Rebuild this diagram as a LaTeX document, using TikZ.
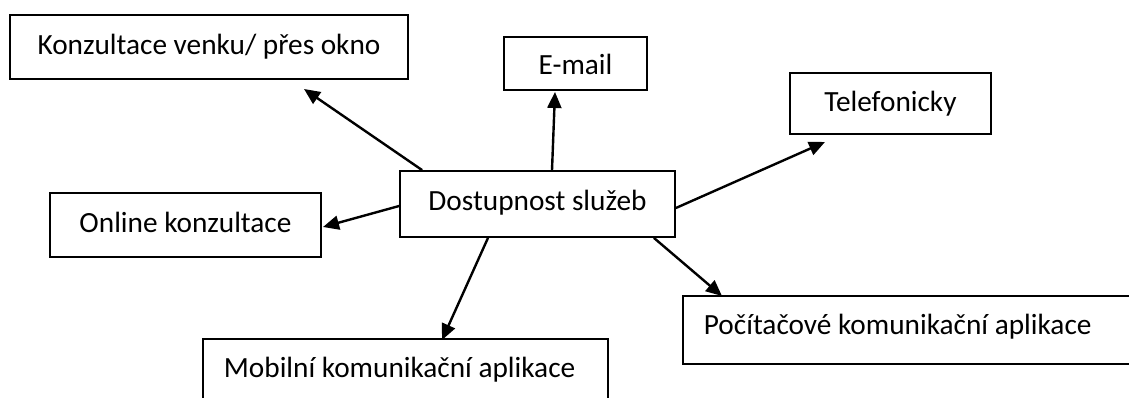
\documentclass[tikz,border=0pt]{standalone}
\usepackage{fontspec}
\setmainfont{Carlito}
\usetikzlibrary{arrows.meta,positioning}
\begin{document}
\begin{tikzpicture}[x=1pt,y=-1pt,
  box/.style={draw=black,line width=1.8pt,rectangle,inner sep=0pt,
    font=\fontsize{29.3}{35}\selectfont,text height=21pt,text depth=5pt},
  bl/.style={text height={13pt+#1},text depth={13pt-#1}},
  leftbox/.style={box,align=flush left,inner xsep=21pt},
  arr/.style={line width=2.4pt,-{Triangle[length=16pt,width=14pt]}}]
\useasboundingbox (0,0) rectangle (1129,398);
\clip (0,0) rectangle (1129,398);
\fill[white] (0,0) rectangle (1129,398);
% boxes
\node[box,bl=8pt,minimum width=398pt,minimum height=64pt] (konz) at (209,47) {Konzultace venku/ přes okno};
\node[box,bl=11pt,minimum width=143pt,minimum height=53pt] (email) at (575.5,63.5) {E-mail};
\node[box,bl=8.5pt,minimum width=201pt,minimum height=61pt] (tel) at (890.5,103.5) {Telefonicky};
\node[box,bl=6.5pt,minimum width=275pt,minimum height=66pt] (ctr) at (537.5,204) {Dostupnost služeb};
\node[box,bl=7pt,minimum width=271pt,minimum height=64pt] (online) at (185.5,225) {Online konzultace};
\node[leftbox,bl=4.5pt,text width=436pt,minimum height=68pt,anchor=north west] (poc) at (682,295) {Počítačové komunikační aplikace};
\node[leftbox,text height=20pt,text depth=6pt,text width=363pt,inner ysep=19pt,anchor=north west] (mob) at (202,338) {Mobilní komunikační aplikace};
% arrow tips
\coordinate (tK) at (304,89);
\coordinate (tE) at (555,92);
\coordinate (tT) at (825,142);
\coordinate (tO) at (323,227);
\coordinate (tP) at (722,296);
\coordinate (tM) at (442,340);
% connectors
\draw[arr] ([xshift=23pt]ctr.north west) -- (tK);
\draw[arr] ([xshift=14.5pt]ctr.north west -| ctr.north) -- (tE);
\draw[arr] ([yshift=-4pt]ctr.east) -- (tT);
\draw[arr] ([yshift=-2pt]ctr.west) -- (tO);
\draw[arr] ([xshift=-22pt]ctr.south east) -- (tP);
\draw[arr] ([xshift=-49.5pt]ctr.south) -- (tM);
\end{tikzpicture}
\end{document}
